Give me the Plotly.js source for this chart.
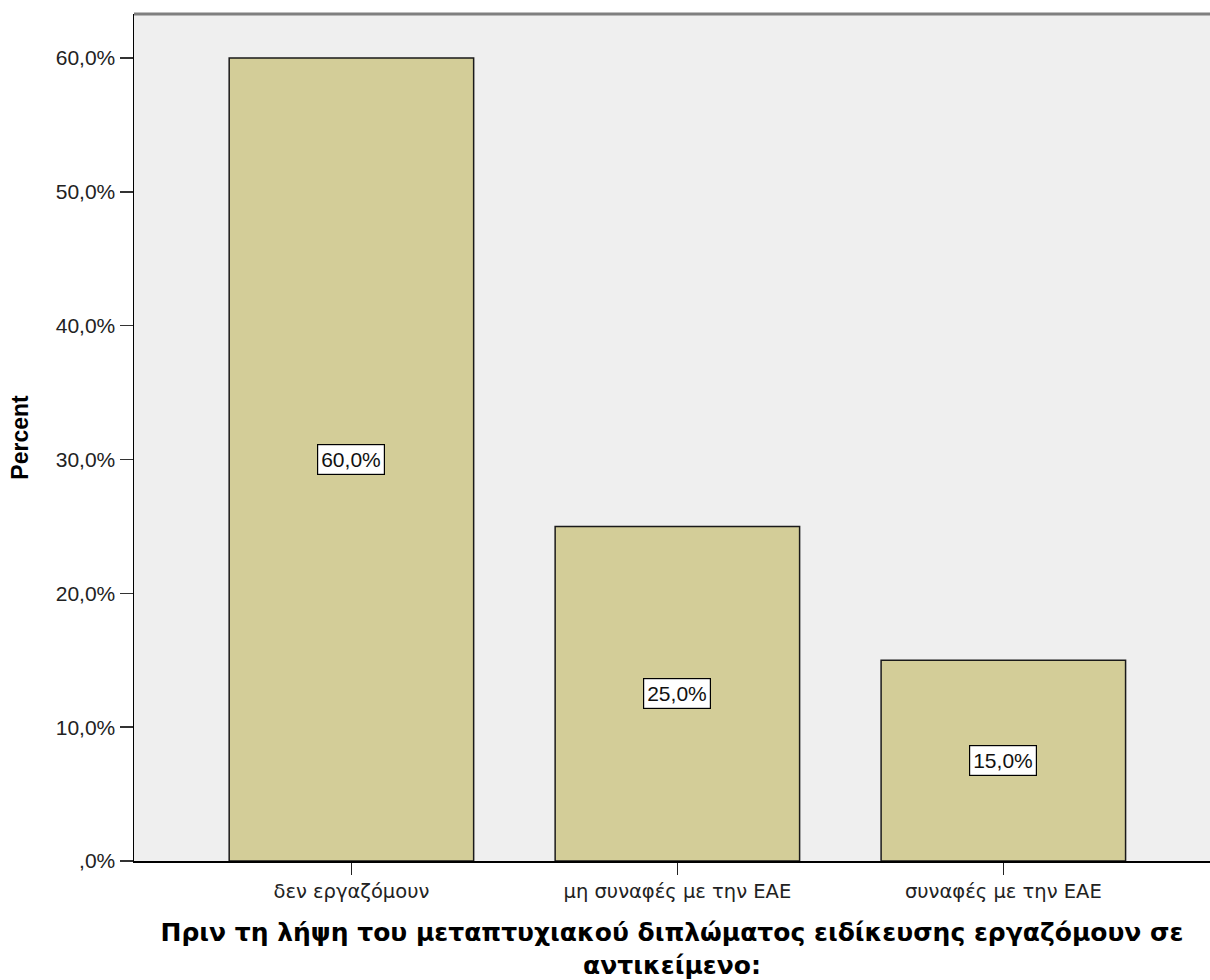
<!DOCTYPE html>
<html>
<head>
<meta charset="utf-8">
<script src="https://cdn.plot.ly/plotly-3.0.1.min.js"></script>
<style>html,body{margin:0;padding:0;background:#fff;}#chart{width:1210px;height:980px;}</style>
</head>
<body>
<div id="chart"></div>
<script>
const categories = ["δεν εργαζόμουν", "μη συναφές με την ΕΑΕ", "συναφές με την ΕΑΕ"];
const percents = [60.0, 25.0, 15.0];
const barLabels = ["60,0%", "25,0%", "15,0%"];
const yTickVals = [0, 10, 20, 30, 40, 50, 60];
const yTickText = [",0%", "10,0%", "20,0%", "30,0%", "40,0%", "50,0%", "60,0%"];
const xTitle = "Πριν τη λήψη του μεταπτυχιακού διπλώματος ειδίκευσης εργαζόμουν σε<br>αντικείμενο:";
const yTitle = "Percent";

const font = "Liberation Sans, Arial, sans-serif";
const greekFont = "DejaVu Sans, Liberation Sans, sans-serif";

const trace = {
  type: "bar",
  x: categories,
  y: percents,
  marker: {color: "#d3cd98", line: {color: "#1a1a1a", width: 1.5}},
  hoverinfo: "skip"
};

const annotations = categories.map((c, i) => ({
  x: c, y: percents[i] / 2, xref: "x", yref: "y",
  text: barLabels[i], showarrow: false,
  font: {family: font, size: 21, color: "#111"},
  bgcolor: "#ffffff", bordercolor: "#000", borderwidth: 1.2, borderpad: 3
}));

const layout = {
  width: 1210, height: 980,
  margin: {l: 134, r: 0, t: 14, b: 119},
  paper_bgcolor: "#ffffff",
  plot_bgcolor: "#efefef",
  bargap: 0.25,
  showlegend: false,
  font: {family: font, color: "#000"},
  xaxis: {
    type: "category",
    range: [-0.667, 2.634],
    showline: true, linecolor: "#000", linewidth: 1.5,
    ticks: "outside", ticklen: 12, tickwidth: 1.5, tickcolor: "#222",
    tickfont: {family: greekFont, size: 19.5, color: "#222"},
    showgrid: false, zeroline: false,
    title: {text: "<b>" + xTitle + "</b>", font: {family: greekFont, size: 25, color: "#000"}, standoff: 26}
  },
  yaxis: {
    range: [0, 63.29],
    tickvals: yTickVals, ticktext: yTickText,
    showline: true, linecolor: "#000", linewidth: 1.5,
    ticks: "outside", ticklen: 13, tickwidth: 1.5, tickcolor: "#333",
    tickfont: {family: font, size: 21, color: "#222"},
    showgrid: false, zeroline: false,
    title: {text: "<b>" + yTitle + "</b>", font: {family: font, size: 23, color: "#000"}, standoff: 20}
  },
  shapes: [{
    type: "line", xref: "paper", yref: "paper", x0: 0, x1: 1, y0: 1, y1: 1,
    line: {color: "#7f7f7f", width: 3}
  }],
  annotations: annotations
};

Plotly.newPlot("chart", [trace], layout, {displayModeBar: false, staticPlot: true});
</script>
</body>
</html>
